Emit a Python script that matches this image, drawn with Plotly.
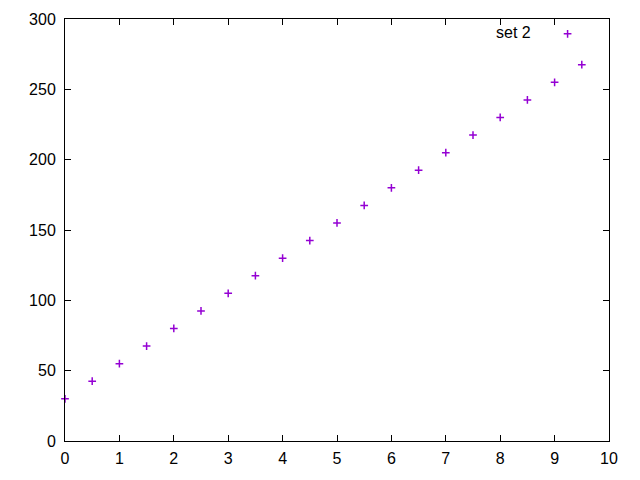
import plotly.graph_objects as go

x_vals = [0, 0.5, 1, 1.5, 2, 2.5, 3, 3.5, 4, 4.5, 5, 5.5, 6, 6.5, 7, 7.5, 8, 8.5, 9, 9.5]
y_vals = [30, 42.5, 55, 67.5, 80, 92.5, 105, 117.5, 130, 142.5, 155, 167.5, 180, 192.5, 205, 217.5, 230, 242.5, 255, 267.5]
series_name = "set 2"

FONT = "Liberation Sans, Arial, sans-serif"

fig = go.Figure()
fig.add_trace(go.Scatter(
    x=x_vals, y=y_vals, mode="markers", name="",
    marker=dict(symbol="cross-thin-open", size=5.5, color="#9400D3",
                line=dict(color="#9400D3", width=1.5)),
    cliponaxis=False,
))

axis_common = dict(
    showgrid=False, zeroline=False, showline=True, linecolor="black", linewidth=1,
    mirror="allticks", ticks="inside", ticklen=6, tickcolor="black", tickwidth=1,
    tickfont=dict(family=FONT, size=16, color="black"), automargin=False,
)
fig.update_xaxes(range=[0, 10], dtick=1, ticklabelstandoff=3, **axis_common)
fig.update_yaxes(range=[0, 300], dtick=50, ticklabelstandoff=5, **axis_common)

fig.update_layout(
    width=640, height=480,
    margin=dict(l=57, r=39, t=11, b=47, autoexpand=False),
    plot_bgcolor="white", paper_bgcolor="white",
    showlegend=True,
    legend=dict(
        x=0.9706, y=1.005, xanchor="right", yanchor="top",
        bgcolor="rgba(0,0,0,0)",
        title=dict(text=series_name + "\u00a0\u00a0", side="left",
                   font=dict(family=FONT, size=16, color="black")),
        font=dict(family=FONT, size=16, color="black"),
    ),
)
fig.write_html("out.html")
